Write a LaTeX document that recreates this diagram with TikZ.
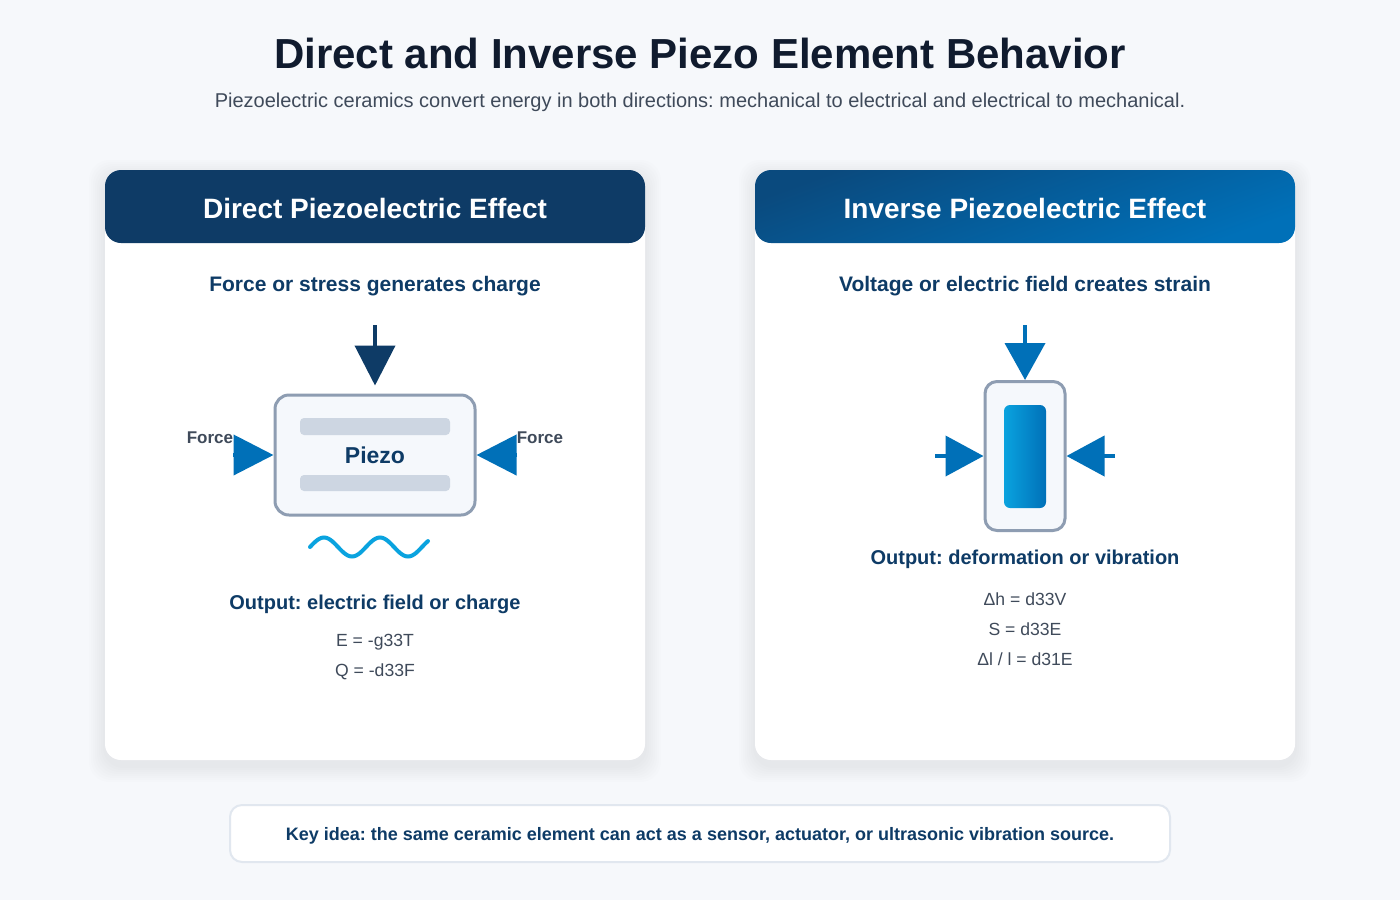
\documentclass[tikz,border=0pt]{standalone}
\usepackage{fontspec}
\setmainfont{Liberation Sans}
\usetikzlibrary{arrows.meta,positioning}
\definecolor{pzbg}{HTML}{F6F8FB}
\definecolor{pzink}{HTML}{101B2E}
\definecolor{pzgray}{HTML}{3F4A5A}
\definecolor{pznavy}{HTML}{0E3B66}
\definecolor{pzblue}{HTML}{0070B8}
\definecolor{pzdeep}{HTML}{0A4A7E}
\definecolor{pzcyan}{HTML}{0AA3DF}
\definecolor{pzedge}{HTML}{8E9DB2}
\definecolor{pzbar}{HTML}{CDD6E2}
\definecolor{pzfill}{HTML}{F5F8FC}
\definecolor{pzline}{HTML}{E1E7EF}
\newcommand{\pzsize}[1]{\fontsize{#1}{1.2\dimexpr#1\relax}\selectfont}
\frenchspacing

\begin{document}
\begin{tikzpicture}[x=0.5pt,y=-0.5pt,
    card/.style={fill=white,rounded corners=8pt},
    cardshadow/.style={fill=black,opacity=0.008,rounded corners=10pt},
    heading/.style={font=\pzsize{14pt}\bfseries,text=white},
    subhead/.style={font=\pzsize{10.5pt}\bfseries,text=pznavy},
    outhead/.style={font=\pzsize{10pt}\bfseries,text=pznavy},
    formula/.style={font=\pzsize{8.8pt},text=pzgray},
    pzbox/.style={draw=pzedge,fill=pzfill,line width=1.5pt,rounded corners=7pt},
    forcelbl/.style={font=\pzsize{8.5pt}\bfseries,text=pzgray},
    push/.style={draw=pzblue,line width=2pt,-{Triangle[width=20pt,length=20pt]}},
    pushdark/.style={push,draw=pznavy}]
  % canvas
  \fill[pzbg] (0,0) rectangle (1400,900);
  \useasboundingbox (0,0) rectangle (1400,900);

  % title
  \node[font=\pzsize{21pt}\bfseries,text=pzink] (title) at (700,53) {Direct and Inverse Piezo Element Behavior};
  \node[font=\pzsize{10pt},text=pzgray] (subtitle) at (700,102) {Piezoelectric ceramics convert energy in both directions: mechanical to electrical and electrical to mechanical.};

  % cards with soft shadow
  \foreach \cx in {105,755} {
    \foreach \s in {2,4,...,16}
      \fill[cardshadow] (\cx-\s,170-\s+6) rectangle (\cx+540+\s,760+\s+6);
    \fill[card] (\cx,170) rectangle (\cx+540,760);
  }
  \fill[pznavy,rounded corners=8pt] (105,170) rectangle (645,243);
  \shade[top color=pzdeep,bottom color=pzblue,shading angle=20,rounded corners=8pt] (755,170) rectangle (1295,243);
  \node[heading] (hdirect) at (375,208) {Direct Piezoelectric Effect};
  \node[heading] (hinverse) at (1025,208) {Inverse Piezoelectric Effect};

  % direct effect
  \node[subhead] (sdirect) at (375,286) {Force or stress generates charge};
  \node[pzbox,minimum width=100pt,minimum height=60pt] (pz) at (375,455) {};
  \fill[pzbar,rounded corners=2pt] (300,418) rectangle (450,435);
  \fill[pzbar,rounded corners=2pt] (300,475) rectangle (450,491);
  \node[font=\pzsize{11.5pt}\bfseries,text=pznavy] (pzname) at (pz.center) {Piezo};
  \coordinate (ftop) at (375,325);
  \coordinate (fleft) at (233,455);
  \coordinate (fright) at (517,455);
  \draw[pushdark] (ftop) -- ([yshift=4pt]pz.north);
  \draw[push] (fleft) -- (pz.west);
  \draw[push] (fright) -- (pz.east);
  \node[forcelbl] (lleft) at (210,438) {Force};
  \node[forcelbl] (lright) at (540,438) {Force};
  \draw[pzcyan,line width=2pt,line cap=round]
    plot[domain=310:428,samples=60,smooth] (\x,{547-9.5*sin((\x-310)*6.4286)});
  \node[outhead] (odirect) at (375,604) {Output: electric field or charge};
  \node[formula] (eq1) at (375,642) {E = -g33T};
  \node[formula,below=15pt of eq1.center,anchor=center] (eq2) {Q = -d33F};

  % inverse effect
  \node[subhead] (sinverse) at (1025,286) {Voltage or electric field creates strain};
  \node[pzbox,minimum width=40pt,minimum height=74.5pt,rounded corners=6pt] (act) at (1025,456) {};
  \shade[left color=pzcyan,right color=pzblue,rounded corners=3pt] (1004,405) rectangle (1046,508);
  \coordinate (vtop) at (1025,325);
  \coordinate (vleft) at (935,456);
  \coordinate (vright) at (1115,456);
  \draw[push,-{Triangle[width=20pt,length=18.5pt]}] (vtop) -- (act.north);
  \draw[push,-{Triangle[width=20pt,length=19pt]}] (vleft) -- (act.west);
  \draw[push,-{Triangle[width=20pt,length=19pt]}] (vright) -- (act.east);
  \node[outhead] (oinverse) at (1025,559) {Output: deformation or vibration};
  \node[formula] (eq3) at (1025,599) {Δh = d33V};
  \node[formula,below=15pt of eq3.center,anchor=center] (eq4) {S = d33E};
  \node[formula,below=15pt of eq4.center,anchor=center] (eq5) {Δl / l = d31E};

  % key idea
  \draw[pzline,fill=white,line width=1pt,rounded corners=6pt] (230,805) rectangle (1170,862);
  \node[font=\pzsize{9pt}\bfseries,text=pznavy] (keyidea) at (700,836) {Key idea: the same ceramic element can act as a sensor, actuator, or ultrasonic vibration source.};
\end{tikzpicture}
\end{document}
